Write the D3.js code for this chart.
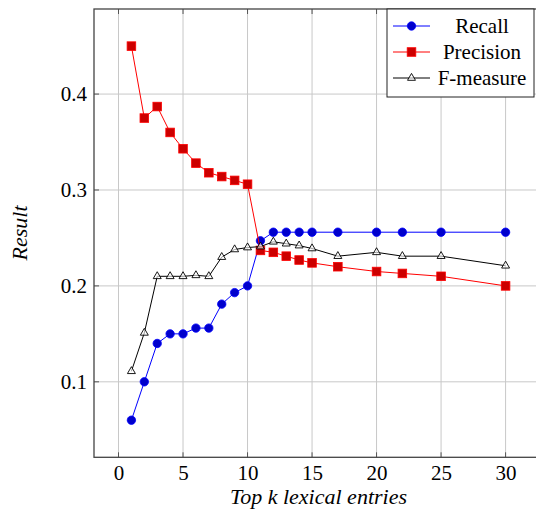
<!DOCTYPE html>
<html><head><meta charset="utf-8"><script src="https://cdn.jsdelivr.net/npm/d3@7"></script></head>
<body style="margin:0">
<svg id="chart" width="536" height="514" style="display:block"></svg>
<script>
const kValues = [1, 2, 3, 4, 5, 6, 7, 8, 9, 10, 11, 12, 13, 14, 15, 17, 20, 22, 25, 30];
const recall = [0.060, 0.100, 0.140, 0.150, 0.150, 0.156, 0.156, 0.181, 0.193, 0.200, 0.247, 0.256, 0.256, 0.256, 0.256, 0.256, 0.256, 0.256, 0.256, 0.256];
const precision = [0.450, 0.375, 0.387, 0.360, 0.343, 0.328, 0.318, 0.314, 0.310, 0.306, 0.237, 0.235, 0.231, 0.227, 0.224, 0.220, 0.215, 0.213, 0.210, 0.200];
const fmeasure = [0.111, 0.151, 0.210, 0.210, 0.210, 0.211, 0.210, 0.230, 0.238, 0.240, 0.241, 0.246, 0.244, 0.242, 0.239, 0.231, 0.235, 0.231, 0.231, 0.221];
const seriesNames = ["Recall", "Precision", "F-measure"];
const xTicks = [0, 5, 10, 15, 20, 25, 30];
const yTicks = [0.1, 0.2, 0.3, 0.4];
const xLabel = "Top k lexical entries";
const yLabel = "Result";

const FONT = '"Liberation Serif"';

const series = [
  { name: seriesNames[0], values: recall, stroke: "#0000ff", fill: "#0000cc", mark: "circle", tl: 56 },
  { name: seriesNames[1], values: precision, stroke: "#ff0000", fill: "#cc0000", mark: "square", tl: 82 },
  { name: seriesNames[2], values: fmeasure, stroke: "#000000", fill: "none", mark: "triangle", tl: 97 }
];

const L = 94, R = 543, T = 9, B = 457.3;
const svg = d3.select("#chart");

const x = d3.scaleLinear().domain([-1.9, 32.9]).range([L, R]);
const y = d3.scaleLinear().domain([0.0213, 0.4887]).range([B, T]);

function styleText(sel, italic) {
  sel.attr("font-family", "Liberation Serif").style("font-family", FONT)
     .attr("font-size", 21).attr("fill", "#000");
  if (italic) sel.attr("font-style", "italic").style("font-style", "italic");
  return sel;
}

// grid
const grid = svg.append("g");
grid.selectAll("line.gx").data(xTicks).join("line")
  .attr("x1", d => x(d)).attr("x2", d => x(d)).attr("y1", T).attr("y2", B)
  .attr("stroke", "#c8c8c8").attr("stroke-width", 1);
grid.selectAll("line.gy").data(yTicks).join("line")
  .attr("x1", L).attr("x2", R).attr("y1", d => y(d)).attr("y2", d => y(d))
  .attr("stroke", "#c8c8c8").attr("stroke-width", 1);

// axes
const xAxis = d3.axisBottom(x).tickValues(xTicks).tickSize(0).tickPadding(10).tickFormat(d3.format("d"));
const gx = svg.append("g").attr("transform", `translate(0,${B})`).call(xAxis);
gx.attr("font-family", "Liberation Serif").attr("font-size", 21);
gx.select(".domain").remove();
styleText(gx.selectAll("text"), false).attr("dy", "0.71em").attr("y", 8);

const yAxis = d3.axisLeft(y).tickValues(yTicks).tickSize(0).tickPadding(7).tickFormat(d3.format(".1f"));
const gy = svg.append("g").attr("transform", `translate(${L},0)`).call(yAxis);
gy.attr("font-family", "Liberation Serif").attr("font-size", 21);
gy.select(".domain").remove();
styleText(gy.selectAll("text"), false);

// inner ticks
const tk = svg.append("g").attr("stroke", "#555").attr("stroke-width", 1);
tk.selectAll("line.bt").data(xTicks).join("line")
  .attr("x1", d => x(d)).attr("x2", d => x(d)).attr("y1", B).attr("y2", B - 5);
tk.selectAll("line.tt").data(xTicks).join("line")
  .attr("x1", d => x(d)).attr("x2", d => x(d)).attr("y1", T).attr("y2", T + 5);
tk.selectAll("line.lt").data(yTicks).join("line")
  .attr("x1", L).attr("x2", L + 5).attr("y1", d => y(d)).attr("y2", d => y(d));

// frame
svg.append("rect").attr("x", L).attr("y", T).attr("width", R - L).attr("height", B - T)
  .attr("fill", "none").attr("stroke", "#444").attr("stroke-width", 1.3);

function drawMark(g, type, s, cx, cy) {
  if (type === "circle") {
    g.append("circle").attr("cx", cx).attr("cy", cy).attr("r", 4.2)
      .attr("fill", s.fill).attr("stroke", s.stroke).attr("stroke-width", 0.8);
  } else if (type === "square") {
    g.append("rect").attr("x", cx - 4.3).attr("y", cy - 4.3).attr("width", 8.6).attr("height", 8.6)
      .attr("fill", s.fill).attr("stroke", s.stroke).attr("stroke-width", 0.8);
  } else {
    const r = 4.6;
    const pts = [[cx, cy - r], [cx - r * 0.866, cy + r * 0.5], [cx + r * 0.866, cy + r * 0.5]];
    g.append("polygon").attr("points", pts.map(p => p.join(",")).join(" "))
      .attr("fill", "#fff").attr("fill-opacity", 0.6).attr("stroke", "#000").attr("stroke-width", 0.9);
  }
}

const line = d3.line().x(d => x(d[0])).y(d => y(d[1]));
series.forEach(s => {
  const pts = kValues.map((k, i) => [k, s.values[i]]);
  const g = svg.append("g");
  g.append("path").attr("d", line(pts)).attr("fill", "none").attr("stroke", s.stroke).attr("stroke-width", 1);
  pts.forEach(p => drawMark(g, s.mark, s, x(p[0]), y(p[1])));
});

// legend
const lg = svg.append("g");
lg.append("rect").attr("x", 387).attr("y", T).attr("width", 147).attr("height", 88)
  .attr("fill", "#fff").attr("stroke", "#222").attr("stroke-width", 1);
const rowsY = [26, 52, 78];
series.forEach((s, i) => {
  const cy = rowsY[i];
  lg.append("line").attr("x1", 393).attr("x2", 430).attr("y1", cy).attr("y2", cy)
    .attr("stroke", s.stroke).attr("stroke-width", 1);
  drawMark(lg, s.mark, s, 411.5, cy);
  styleText(lg.append("text"), false).attr("x", 482).attr("y", cy + 7)
    .attr("text-anchor", "middle").text(s.name);
});

// axis labels
styleText(svg.append("text"), true).attr("x", 318.5).attr("y", 504)
  .attr("text-anchor", "middle").attr("font-size", 22).text(xLabel);
styleText(svg.append("text"), true).attr("transform", `translate(27,233) rotate(-90)`)
  .attr("text-anchor", "middle").attr("font-size", 22).text(yLabel);
</script>
</body>
</html>
